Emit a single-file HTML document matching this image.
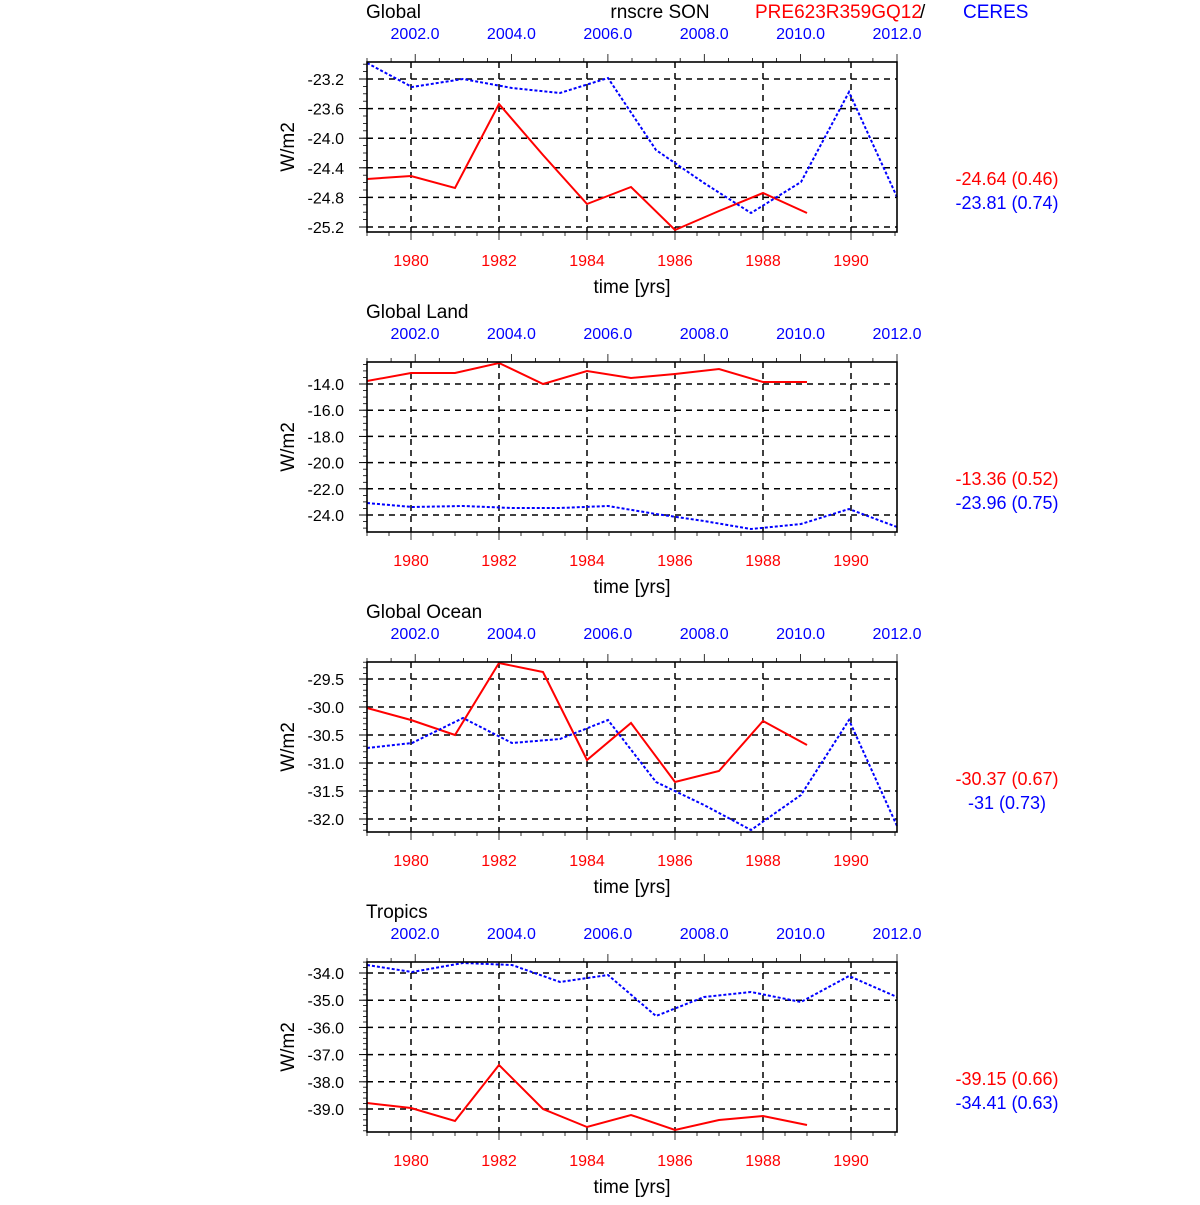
<!DOCTYPE html>
<html><head><meta charset="utf-8"><style>
body{margin:0;background:#fff;width:1200px;height:1200px;overflow:hidden}
svg{font-family:"Liberation Sans",Arial,sans-serif}
</style></head><body>
<svg id="s" xmlns="http://www.w3.org/2000/svg" width="1200" height="1200" viewBox="0 0 1200 1200"></svg>
<script>
var s='';
var X0=367,X1=897;
function rx(i){return X0+44*i;}
var BX=[367,412,463,512,560,608,656,704,751,801,849,897];
var panels=[
 {top:62,title:"Global",ticks:[[-23.2,79],[-23.6,108.6],[-24.0,138.2],[-24.4,167.8],[-24.8,197.4],[-25.2,227]],minor:7.4,
  red:[179,176,188,104,155,204,187,230,211,193,213],
  blue:[63,87,79,88,93,78,150,183,213,182,92,197],labs:["-24.64 (0.46)","-23.81 (0.74)"]},
 {top:362,title:"Global Land",ticks:[[-14.0,384],[-16.0,410.2],[-18.0,436.4],[-20.0,462.6],[-22.0,488.8],[-24.0,515]],minor:6.55,
  red:[381,373,373,363,384,371,378,374,369,382,382],
  blue:[503,507,506,508,508,506,514,521,529,524,509,527],labs:["-13.36 (0.52)","-23.96 (0.75)"]},
 {top:662,title:"Global Ocean",ticks:[[-29.5,679],[-30.0,707],[-30.5,735],[-31.0,763],[-31.5,791],[-32.0,819]],minor:5.6,
  red:[708,720,735,663,672,760,723,782,771,721,745],
  blue:[748,743,718,743,739,720,782,805,830,795,720,826],labs:["-30.37 (0.67)","-31 (0.73)"]},
 {top:962,title:"Tropics",ticks:[[-34.0,973],[-35.0,1000.2],[-36.0,1027.4],[-37.0,1054.6],[-38.0,1081.8],[-39.0,1109]],minor:5.44,
  red:[1103,1108,1121,1065,1109,1127,1115,1130,1120,1116,1125],
  blue:[965,972,963,965,982,975,1016,997,992,1002,976,997],labs:["-39.15 (0.66)","-34.41 (0.63)"]}
];
panels.forEach(function(p){
 var T=p.top,B=T+170;
 s+='<text x="366" y="'+(T-44)+'" font-size="19" fill="#000">'+p.title+'</text>';
 for(var k=0;k<6;k++){var x=415+96.4*k;s+='<text x="'+x+'" y="'+(T-23)+'" font-size="16" fill="#0000ff" text-anchor="middle">'+(2002+2*k)+'.0</text>';}
 for(var yr=1;yr<=11;yr++){ if(yr%2==1){var x=rx(yr);s+='<line x1="'+x+'" y1="'+T+'" x2="'+x+'" y2="'+B+'" stroke="#000" stroke-width="1.5" stroke-dasharray="6,5"/>';}}
 p.ticks.forEach(function(t){s+='<line x1="'+X0+'" y1="'+t[1]+'" x2="'+X1+'" y2="'+t[1]+'" stroke="#000" stroke-width="1.5" stroke-dasharray="6,5"/>';
  s+='<text x="344" y="'+(t[1]+6)+'" font-size="16" text-anchor="end">'+t[0].toFixed(1)+'</text>';
  s+='<line x1="'+(X0-8)+'" y1="'+t[1]+'" x2="'+X0+'" y2="'+t[1]+'" stroke="#000"/>';});
 var y0=p.ticks[0][1];
 for(var y=y0-20*p.minor;y<=B;y+=p.minor){ if(y>=T&&y<=B) s+='<line x1="'+(X0-4)+'" y1="'+y.toFixed(1)+'" x2="'+X0+'" y2="'+y.toFixed(1)+'" stroke="#000" stroke-width="0.8"/>';}
 for(var h=0;h<=24;h++){var x=X0+22*h;var L=(h%4==2)?8:4;s+='<line x1="'+x+'" y1="'+B+'" x2="'+x+'" y2="'+(B+L)+'" stroke="#000" stroke-width="0.8"/>';}
 for(var yr=1;yr<=11;yr+=2){s+='<text x="'+rx(yr)+'" y="'+(B+34)+'" font-size="16" fill="#ff0000" text-anchor="middle">'+(1979+yr)+'</text>';}
 for(var h=0;h<=22;h++){var x=X0+24.09*h;var L=(h%4==2)?8:4;s+='<line x1="'+x.toFixed(1)+'" y1="'+T+'" x2="'+x.toFixed(1)+'" y2="'+(T-L)+'" stroke="#000" stroke-width="0.8"/>';}
 s+='<text x="632" y="'+(B+61)+'" font-size="19" text-anchor="middle">time [yrs]</text>';
 s+='<text x="0" y="0" font-size="19" text-anchor="middle" transform="translate(294,'+(T+85)+') rotate(-90)">W/m2</text>';
 var pr=p.red.map(function(y,i){return rx(i)+','+y;}).join(' ');
 s+='<polyline points="'+pr+'" fill="none" stroke="#ff0000" stroke-width="2"/>';
 var pb=p.blue.map(function(y,i){return BX[i]+','+y;}).join(' ');
 s+='<polyline points="'+pb+'" fill="none" stroke="#0000ff" stroke-width="2" stroke-dasharray="3,2"/>';
 s+='<rect x="'+X0+'" y="'+T+'" width="'+(X1-X0)+'" height="170" fill="none" stroke="#000" stroke-width="1.6"/>';
 s+='<text x="1007" y="'+(T+123)+'" font-size="18" fill="#ff0000" text-anchor="middle">'+p.labs[0]+'</text>';
 s+='<text x="1007" y="'+(T+147)+'" font-size="18" fill="#0000ff" text-anchor="middle">'+p.labs[1]+'</text>';
});
s+='<text x="660" y="18" font-size="19" text-anchor="middle">rnscre SON</text>';
s+='<text x="755" y="18" font-size="19" fill="#ff0000">PRE623R359GQ12</text>';
s+='<text x="920" y="18" font-size="19">/</text>';
s+='<text x="963" y="18" font-size="19" fill="#0000ff">CERES</text>';
document.getElementById('s').innerHTML=s;
</script>
</body></html>
